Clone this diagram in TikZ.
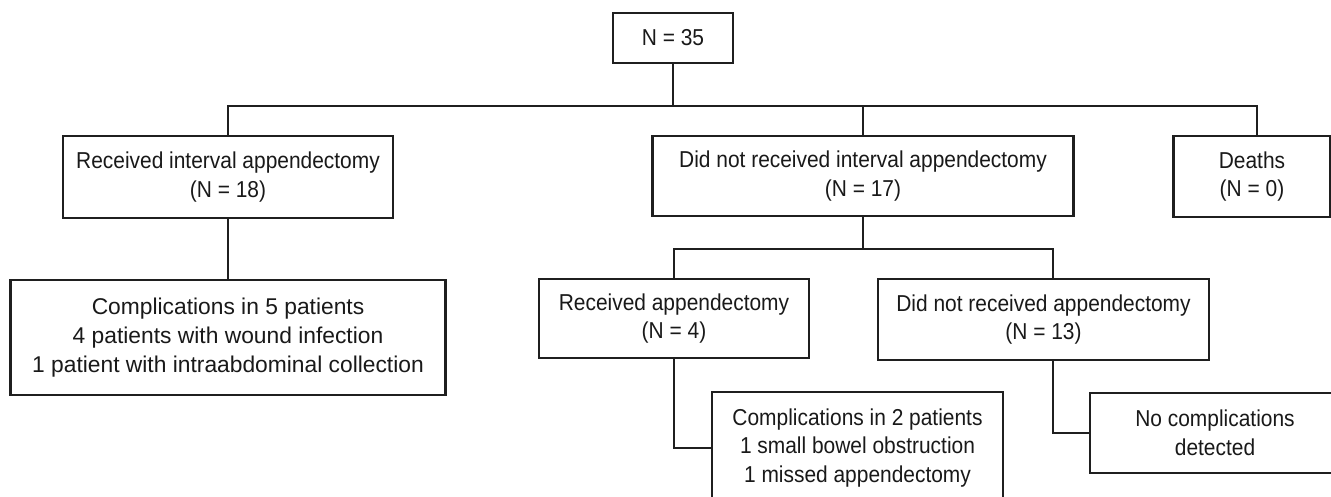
\documentclass[tikz,border=0pt]{standalone}
\usepackage{fontspec}
\setmainfont{Liberation Sans}
\newfontfamily\narrowsans[FakeStretch=0.91]{Liberation Sans}
\usetikzlibrary{calc}
\begin{document}
\begin{tikzpicture}[x=1pt,y=-1pt,
  box/.style={draw=black!88, line width=2.2pt, fill=white, inner sep=0pt, align=center,
    text=black!90, font=\narrowsans\fontsize{23}{28.5}\selectfont},
  bigbox/.style={box, font=\fontsize{22.8}{28.8}\selectfont},
  link/.style={draw=black!88, line width=2.2pt}]
\useasboundingbox (0,0) rectangle (1331,497);
\clip (0,0) rectangle (1331,497);
\fill[white] (0,0) rectangle (1331,497);

\node[box, minimum width=120pt, minimum height=50pt] (top) at (673,38) {N = 35};
\node[box, minimum width=330pt, minimum height=82pt] (A) at (228,177) {Received interval appendectomy\\(N = 18)};
\node[box, minimum width=421pt, minimum height=80pt] (B) at (863,176) {Did not received interval appendectomy\\(N = 17)};
\node[box, minimum width=157pt, minimum height=81pt] (C) at (1252,176.5) {Deaths\\(N = 0)};
\node[bigbox, minimum width=435pt, minimum height=115pt] (D) at (228,337.5) {Complications in 5 patients\\4 patients with wound infection\\1 patient with intraabdominal collection};
\node[box, minimum width=270pt, minimum height=79pt] (E) at (674,318.5) {Received appendectomy\\(N = 4)};
\node[box, minimum width=331pt, minimum height=81pt] (F) at (1043.5,319.5) {Did not received appendectomy\\(N = 13)};
\node[box, minimum width=291pt, minimum height=112pt] (G) at (857.5,448) {Complications in 2 patients\\1 small bowel obstruction\\1 missed appendectomy};
\node[box, minimum width=250pt, minimum height=80pt] (H) at (1215,433) {No complications\\detected};

\coordinate (j1) at ($(top.south)+(0,42)$);
\coordinate (j2) at ($(B.south)+(0,32)$);

\draw[link] (top.south) -- (j1);
\draw[link] (A.north) |- (j1) -| ([xshift=5pt]C.north);
\draw[link] (B.north) -- (B.north |- j1);
\draw[link] (A.south) -- (D.north);
\draw[link] (B.south) -- (j2);
\draw[link] (E.north) |- (j2) -| ([xshift=9.5pt]F.north);
\draw[link] (E.south) |- (G.west);
\draw[link] ([xshift=9.5pt]F.south) |- (H.west);
\end{tikzpicture}
\end{document}
